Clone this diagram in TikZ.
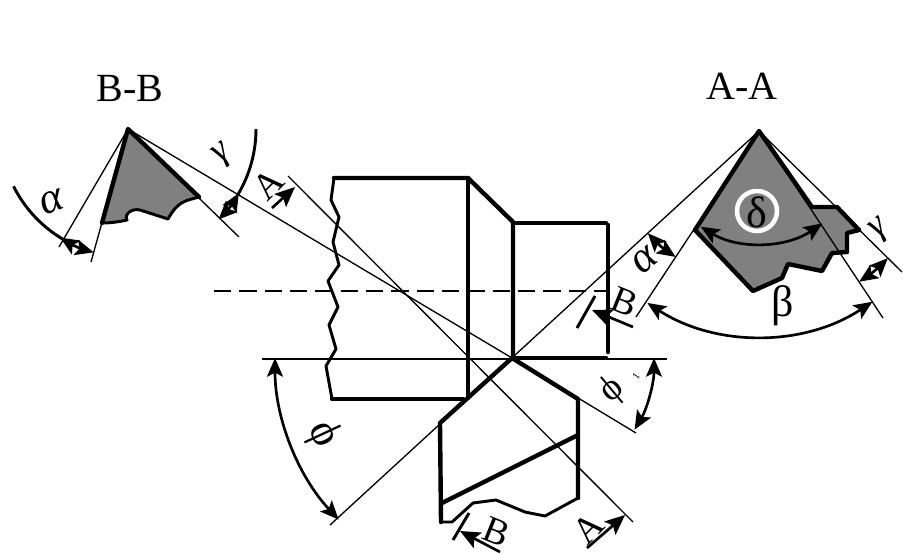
\documentclass[tikz,border=0pt]{standalone}
\usepackage{fontspec}
\setmainfont{Liberation Serif}
\usetikzlibrary{arrows.meta,calc}
\tikzset{
	thick line/.style={line width=3.3pt, line join=round, line cap=round},
	mid line/.style={line width=2.2pt, line join=round},
	thin line/.style={line width=1pt},
	dim/.style={line width=2pt, {Stealth[length=14pt,width=12pt,inset=3pt]}-{Stealth[length=14pt,width=12pt,inset=3pt]}},
	cut/.style={line width=2pt, -{Stealth[length=15pt,width=13pt,inset=3pt]}},
	big/.style={font=\fontsize{30}{32}\selectfont, inner sep=0pt},
	lbl/.style={font=\fontsize{28}{30}\selectfont, inner sep=0pt},
	greek/.style={font=\fontsize{33}{34}\selectfont, inner sep=0pt},
	greeksm/.style={font=\fontsize{28}{30}\selectfont, inner sep=0pt},
	smalllbl/.style={font=\fontsize{8}{9}\selectfont, inner sep=0pt}
}
\begin{document}
\begin{tikzpicture}[x=0.75pt, y=0.75pt]
	\useasboundingbox (0,-554) rectangle (903,0);
	\coordinate (tip) at (512,-358);
	\coordinate (apexA) at (759,-131);
	\coordinate (apexB) at (128,-129);

	% section B-B
	\fill[gray] (apexB) -- (199,-197) .. controls (185,-201) and (178,-201) .. (168,-219) -- (140,-210) .. controls (132,-208) and (124,-214) .. (127,-220) .. controls (118,-222) and (110,-223) .. (102,-223) -- cycle;
	\draw[thick line] (102,-223) -- (apexB) -- (199,-197);
	\draw[mid line] (199,-197) .. controls (185,-201) and (178,-201) .. (168,-219) -- (140,-210) .. controls (132,-208) and (124,-214) .. (127,-220) .. controls (118,-222) and (110,-223) .. (102,-223);
	\draw[thin line] (apexB) -- (59,-247);
	\draw[thin line] (apexB) -- (91,-262);
	\draw[thin line] (apexB) -- (239,-237);
	\draw[mid line] (apexB) ++(206.6:128) arc[start angle=206.6, end angle=240, radius=128];
	\draw[mid line] (apexB) ++(0:128) arc[start angle=0, end angle=-31, radius=128];
	\draw[dim] (apexB) ++(238:128) arc[start angle=238, end angle=254.5, radius=128];
	\draw[dim] (apexB) ++(-30:128) arc[start angle=-30, end angle=-45, radius=128];

	% section A-A
	\fill[gray] (apexA) -- (812,-207) -- (837,-207) -- (859,-230) -- (847,-233) -- (847,-252) -- (832,-253) -- (822,-271) -- (788,-264) -- (782,-278) -- (753,-291) -- (695,-230) -- cycle;
	\draw[thick line] (695,-230) -- (apexA) -- (812,-207) -- (837,-207) -- (859,-230);
	\draw[thick line] (859,-230) -- (847,-233) -- (847,-252) -- (832,-253) -- (822,-271) -- (788,-264) -- (782,-278) -- (753,-291) -- (695,-230);
	\draw[thin line] (apexA) -- (330,-525);
	\draw[thin line] (apexA) -- (636,-317);
	\draw[thin line] (apexA) -- (883,-318);
	\draw[thin line] (apexA) -- (902,-272);
	\draw[dim] (apexA) ++(222.6:151) arc[start angle=222.6, end angle=236.5, radius=151];
	\draw[dim] (apexA) ++(303.6:181) arc[start angle=303.6, end angle=315.4, radius=181];
	\draw[dim] (apexA) ++(237:205) arc[start angle=237, end angle=303.6, radius=205];
	\draw[dim] (apexA) ++(238.7:112) arc[start angle=238.7, end angle=304.4, radius=112];
	\draw[white, line width=3.4pt] (757,-211) circle (20);

	% centre lines
	\draw[thin line] (262,-359) -- (667,-359);
	\draw[thin line, dash pattern=on 13pt off 6pt] (214,-291) -- (608,-291);
	\draw[thin line] (apexB) -- (tip);
	\draw[thin line] (288,-176) -- (633,-522);
	\draw[thin line] (tip) -- (636,-433);

	% workpiece
	\draw[thick line] (332,-399) -- (463,-399);
	\draw[thick line] (334,-178) -- (468,-178) -- (513,-222) -- (513,-358);
	\draw[thick line] (513,-223) -- (606,-223);
	\draw[thick line] (608,-225) -- (608,-352);
	\draw[thick line] (513,-358) -- (606,-358);
	\draw[thick line] (468,-178) -- (468,-398);
	\draw[mid line] (334,-178) -- (331,-200) -- (339,-217) -- (333,-242) -- (339,-265) -- (328,-281) -- (338,-307) -- (329,-325) -- (336,-349) -- (326,-366) -- (332,-399);

	% tool
	\draw[thick line] (441,-522) -- (440,-423) -- (tip) -- (578,-399) -- (578,-498);
	\draw[thick line] (442,-503) -- (578,-435);
	\draw[mid line] (441,-522) -- (452,-522) -- (473,-503) -- (496,-500) -- (525,-512) -- (545,-516) -- (578,-498);

	% phi arcs
	\draw[dim] (tip) ++(180:237) arc[start angle=180, end angle=223, radius=237];
	\draw[dim] (tip) ++(0:142) arc[start angle=0, end angle=-30.3, radius=142];

	% cutting marks
	\draw[cut] (272,-208) -- (295,-187);
	\draw[cut] (587,-548) -- (625,-515);
	\draw[mid line] (577,-328) -- (595,-296);
	\draw[cut] (633,-327) -- (592,-310);
	\draw[mid line] (453,-540) -- (469,-513);
	\draw[cut] (500,-552) -- (460,-531);

	% labels
	\node[big] (bb) at (130,-88) {B-B};
	\node[big] (aa) at (742,-86) {A-A};
	\node[lbl, rotate=45] (a1) at (268,-184) {A};
	\node[lbl, rotate=45] (a2) at (588,-528) {A};
	\node[lbl, rotate=-22] (b1) at (625,-302) {B};
	\node[lbl, rotate=-22] (b2) at (497,-532) {B};
	\node[greek, rotate=20] (alphaB) at (52,-202) {\textit{α}};
	\node[greeksm, rotate=40] (gammaB) at (223,-155) {\textit{γ}};
	\node[greek, rotate=40] (alphaA) at (645,-260) {\textit{α}};
	\node[greeksm, rotate=40] (gammaA) at (880,-230) {\textit{γ}};
	\node[greek] (delta) at (757,-212) {δ};
	\node[greek] (beta) at (783,-306) {β};
	\node[greek, rotate=-65] (phi) at (323,-435) {ϕ};
	\node[greeksm, rotate=40] (phia) at (612,-390) {ϕ};
	\node[smalllbl, rotate=55] (phib) at (636,-376) {1};
\end{tikzpicture}
\end{document}
